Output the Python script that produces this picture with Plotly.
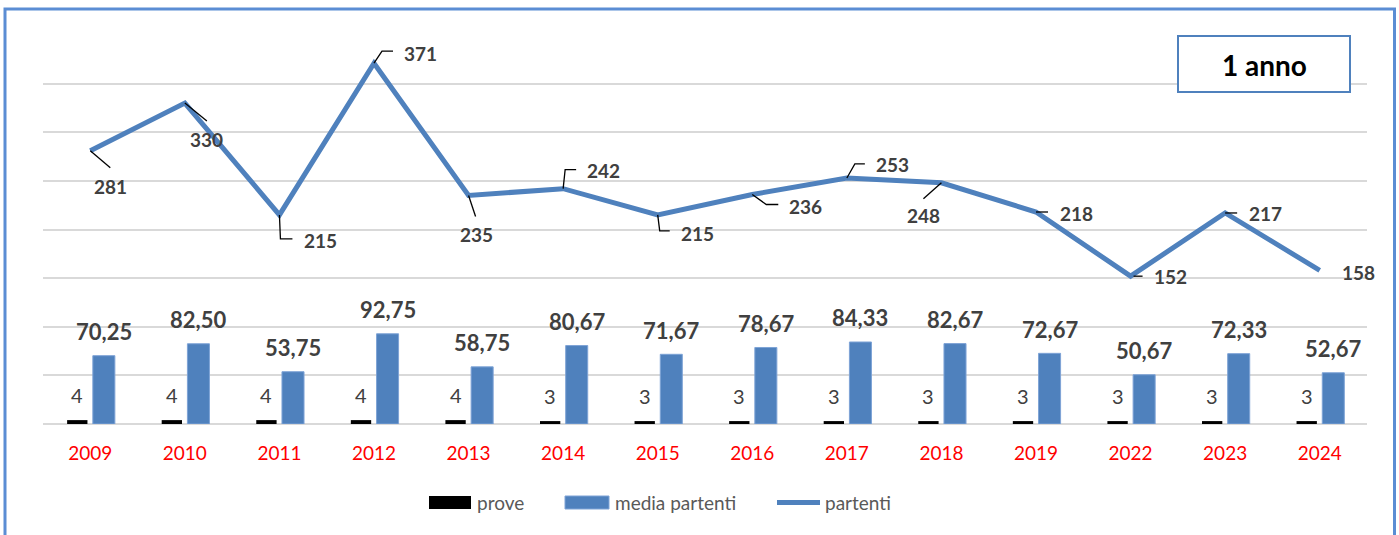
import plotly.graph_objects as go

# ---- data ----
anni = ["2009", "2010", "2011", "2012", "2013", "2014", "2015",
        "2016", "2017", "2018", "2019", "2022", "2023", "2024"]
prove = [4, 4, 4, 4, 4, 3, 3, 3, 3, 3, 3, 3, 3, 3]
media_partenti = [70.25, 82.50, 53.75, 92.75, 58.75, 80.67, 71.67,
                  78.67, 84.33, 82.67, 72.67, 50.67, 72.33, 52.67]
partenti = [281, 330, 215, 371, 235, 242, 215, 236, 253, 248, 218, 152, 217, 158]

# ---- styling ----
FONT = "Lato"
BLUE = "#4F81BD"
FRAME = "#5B8DD4"
LABEL = "#404040"
GRID = "#D9D9D9"

W, H = 1399, 535
ML, MR, MT, MB = 43, 32, 35, 111
PW, PH = W - ML - MR, H - MT - MB

# bar placement inside each category slot (fractions of a slot)
PROVE_OFF, PROVE_W = -0.245, 0.215
MEDIA_OFF, MEDIA_W = 0.027, 0.233

# data-label placement for the 'partenti' line: (dx, dy) in px, y downwards,
# plus the elbow leader path in px (y downwards) starting at the point
line_label_pos = [
    ((20, 36), [(0, 0), (20, 17)]),
    ((22, 36), [(0, 0), (22, 18)]),
    ((41, 26), [(0, 0), (1, 24), (13, 24)]),
    ((46, -10), [(0, 0), (8, -12), (19, -12)]),
    ((8, 39), [(0, 0), (7, 21)]),
    ((40, -18), [(0, 0), (2, -19), (13, -19)]),
    ((40, 19), [(0, 0), (2, 16), (12, 16)]),
    ((53, 12), [(0, 0), (14, 10), (26, 10)]),
    ((46, -13), [(0, 0), (8, -14), (18, -14)]),
    ((-18, 33), [(0, 0), (-18, 16)]),
    ((40, 1), [(0, 0), (12, 0)]),
    ((40, 0), [(3, 0), (12, 0)]),
    ((40, 1), [(0, 0), (12, 0)]),
    ((39, 2), None),
]

idx = list(range(len(anni)))


def px_x(px):
    return (px - ML) / PW


def px_y(py):
    return (H - MB - py) / PH


fig = go.Figure()

fig.add_trace(go.Bar(
    x=idx, y=prove, name="prove",
    offset=PROVE_OFF, width=PROVE_W,
    marker=dict(color="black", line=dict(width=0)),
    showlegend=False, hoverinfo="skip",
))
fig.add_trace(go.Bar(
    x=idx, y=media_partenti, name="media partenti",
    offset=MEDIA_OFF, width=MEDIA_W,
    marker=dict(color=BLUE, line=dict(color="#7EA3D6", width=1)),
    showlegend=False, hoverinfo="skip",
))
fig.add_trace(go.Scatter(
    x=idx, y=partenti, name="partenti", mode="lines",
    line=dict(color=BLUE, width=5),
    showlegend=False, hoverinfo="skip",
))

annotations = []
shapes = []

# bar value labels
for i, (p, m) in enumerate(zip(prove, media_partenti)):
    annotations.append(dict(
        x=i + PROVE_OFF + PROVE_W / 2, y=p, xref="x", yref="y",
        text=str(p), showarrow=False, xanchor="center", yanchor="middle",
        yshift=25,
        font=dict(family=FONT, size=20, color=LABEL),
    ))
    annotations.append(dict(
        x=i + MEDIA_OFF + MEDIA_W / 2, y=m, xref="x", yref="y",
        text=f"{m:.2f}".replace(".", ","), showarrow=False,
        xanchor="center", yanchor="middle", yshift=24,
        font=dict(family=FONT, size=22, color=LABEL, weight="bold"),
    ))

# line value labels with elbow leaders
for i, v in enumerate(partenti):
    (dx, dy), leader = line_label_pos[i]
    annotations.append(dict(
        x=i, y=v, xref="x", yref="y", text=str(v), showarrow=False,
        xshift=dx, yshift=-dy, xanchor="center", yanchor="middle",
        font=dict(family=FONT, size=19, color=LABEL, weight="bold"),
    ))
    if leader:
        path = "M " + " L ".join(f"{px},{-py}" for px, py in leader)
        shapes.append(dict(
            type="path", xref="x", yref="y",
            xsizemode="pixel", ysizemode="pixel",
            xanchor=i, yanchor=v, path=path,
            line=dict(color="black", width=1.3), layer="above",
        ))

# title box "1 anno"
shapes.append(dict(
    type="rect", xref="paper", yref="paper",
    x0=px_x(1178), x1=px_x(1350), y0=px_y(92), y1=px_y(36),
    line=dict(color=BLUE, width=2), fillcolor="white", layer="above",
))
annotations.append(dict(
    x=px_x(1264), y=px_y(65), xref="paper", yref="paper",
    text="1 anno", showarrow=False, xanchor="center", yanchor="middle",
    font=dict(family=FONT, size=28, color="black", weight="bold"),
))

# outer chart frame
shapes.append(dict(
    type="rect", xref="paper", yref="paper",
    x0=px_x(5), x1=px_x(1394.5), y0=px_y(560), y1=px_y(9),
    line=dict(color=FRAME, width=3), fillcolor="rgba(0,0,0,0)", layer="above",
))

# legend
LEG_Y = 502.5
shapes.append(dict(type="rect", xref="paper", yref="paper",
                   x0=px_x(429), x1=px_x(471), y0=px_y(509), y1=px_y(496),
                   line=dict(width=0), fillcolor="black"))
shapes.append(dict(type="rect", xref="paper", yref="paper",
                   x0=px_x(565), x1=px_x(609), y0=px_y(509), y1=px_y(496),
                   line=dict(color="#7EA3D6", width=1), fillcolor=BLUE))
shapes.append(dict(type="path", xref="paper", yref="paper",
                   path=f"M {px_x(777)},{px_y(LEG_Y)} L {px_x(820)},{px_y(LEG_Y)}",
                   line=dict(color=BLUE, width=5)))
for text, left in [("prove", 475), ("media partenti", 613), ("partenti", 823)]:
    annotations.append(dict(
        x=px_x(left), y=px_y(LEG_Y), xref="paper", yref="paper",
        text=text, showarrow=False, xanchor="left", yanchor="middle",
        font=dict(family=FONT, size=19, color="#595959"),
    ))

fig.update_layout(
    width=W, height=H,
    margin=dict(l=ML, r=MR, t=MT, b=MB),
    paper_bgcolor="white", plot_bgcolor="white",
    barmode="overlay", showlegend=False,
    annotations=annotations, shapes=shapes,
)
fig.update_xaxes(
    range=[-0.5, len(anni) - 0.5],
    tickmode="array", tickvals=idx, ticktext=anni,
    tickfont=dict(family=FONT, size=19, color="#FF0000"),
    ticks="outside", ticklen=12, tickcolor="rgba(0,0,0,0)",
    showgrid=False, zeroline=False, showline=False,
)
fig.update_yaxes(
    range=[0, 400], dtick=50, showticklabels=False,
    showgrid=True, gridcolor=GRID, gridwidth=1.5,
    zeroline=True, zerolinecolor=GRID, zerolinewidth=1.5,
)

fig.write_html("out.html")
